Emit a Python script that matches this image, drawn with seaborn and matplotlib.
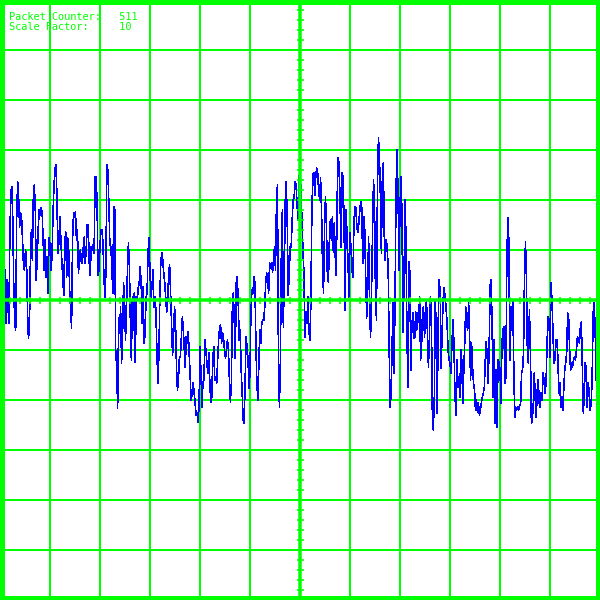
import numpy as np
import pandas as pd
import matplotlib.pyplot as plt
import seaborn as sns

# scope trace, amplitude in screen units (50 per grid division)
trace_a = [300, -48, -100, -100, -8,
           30, -23, 20, -3, -23, 60, 107, 113, 82, 15, -23, -30, 82, 118, 103,
           73, 87, 83, 60, 33, 30, 50, 43, -10, -38, -30, 40, 70, 40, 103,
           115, 90, 20, 43, 72, 90, 85, 92, 88, 60, 30, 60, 23, 43, 7,
           62, 55, 30, 43, 83, 113, 130, 135, 107, 47, 57, 83, 63, 40, 23,
           5, 57, 68, 23, 62, 53, 10, -10, -28, 60, 87, 83, 88, 60, 70,
           27, 40, 50, 38, 37, 53, 63, 37, 53, 75, 75, 38, 25, 53, 50,
           55, 47, 123, 123, 98, 25, 30, 55, 70, 70, 58, 23, 3, 27, 135,
           130, 98, 57, 53, 37, 7, 93, 90, -50, -67, -108, -18, -33, -7, -63,
           -37, 17, 3, -40, -10, 30, 57, 33, -23, -60, 3, -30, 7, -62, 3,
           0, 12, 17, 33, 17, -23, 13, -43, -33, 3, 7, 47, 62, 27, 3,
           13, 30, -7, 3]

trace_b = [-10, -50, -83, -57, 0, 38, 47, 40, 27, 17, 3, -12, -3, 27, 35,
           7, -25, -55, -37, -7, -20, -67, -90, -80, -57, -57, -37, -17, -30, -50,
           -67, -37, -43, -32, -55, -80, -100, -93, -83, -93, -103, -115, -113, -122, -107,
           -47, -73, -107, -83, -80, -40, -50, -63, -73, -53, -83, -102, -97, -60, -47,
           -80, -77, -83, -60, -40, -27, -25, -43, -33, -38, -50, -58, -50, -40, -50,
           -80, -102, -83, -7, 7, -23, -58, 17, 23, -3, -40, -30, -70, -93, -120,
           -123, -83, -37, -47, -60, -88, -73, -7, 10, 7, 23, 17, -43, -83, -100,
           -63, -30, -43, -23, -20, -20, -7, 17, 27, 20, 7, 37, 32, 37, 28,
           40, 53, 30, 97, 115, -58, -107, -60, 50, 90, -27, 27, 100, 118, 77,
           5, 27, 53, 53, 80, 100, 103, 118, 115, 95, 80, 122, 130, 110, 80,
           50]

trace_c = [27, -37, -12, -23, 3, -30, -40, -7, 80, 125, 127, 105, 122, 132, 127,
           110, 100, 122, 88, 32, 7, 73, 103, 72, 20, 18, 63, 80, 60, 83,
           48, 77, 43, 25, 107, 142, 135, 90, 53, 127, 123, 73, -10, 90, 63,
           37, 3, 67, 53, 30, 23, 77, 93, 92, 73, 68, 77, 90, 98, 92,
           37, 83, 70, 23, -18, 17, 63, -13, -37, 10, 70, 120, 97, 3, -20,
           113, 162, 145, 103, 47, 123, 137, 62, 40, 60, 53, 27, -53, -107, -93,
           -42, -3, -73, 7, 113, 150, 107, 30, 93, 123, 87, -32, 8, 100, 67,
           -27, -87, 38, 28, -70, -30, -13, -38, -37, -12, -30, -13, -22, 3, -60,
           -47, -10, -7, -37, -17, 0, -33, -67, -37, 3, -13, -115, -130, -97, 0,
           -30, -113, -20, 20, 7, -68, -30, 0, 12, 3, -8, -23, -50, -60, -63,
           -73, -43]

trace_d = [-20, -43, -93, -115, -60, -87, -77, -97, -50, -60, -103, -73, -43, -7, -22,
           -30, -3, -37, -80, -43, -67, -83, -90, -110, -100, -112, -103, -115, -110, -103,
           -97, -93, -87, -60, -42, -57, -83, -43, 15, 20, -30, -97, -40, -123, -70,
           -127, -60, -63, -70, -103, -43, -30, -27, -83, -77, 43, 82, 60, -60, -7,
           -30, 0, -63, -117, -107, -110, -107, -110, -105, -105, -73, -70, -53, 27, 58,
           20, -57, -63, -10, -47, -123, -120, -103, -73, -100, -117, -90, -80, -103, -107,
           -93, -100, -73, -80, -93, -83, -43, -17, -20, -57, 17, 0, -30, -63, -60,
           -40, -40, -57, -93, -83, -107, -97, -110, -90, -70, -63, -53, -13, -17, -50,
           -70, -63, -67, -60, -57, -60, -50, -37, -40, -43, -27, -22, -70, -113, -93,
           -63, -70, -107, -83, -93, -110, -103, -77, -13, -3, -27, -80, -50, -63, -60,
           -47]

GREEN = '#00ff00'
BLUE = '#0000ff'
PX = 72 / 100  # points per pixel at dpi 100

signal = np.concatenate([trace_a, trace_b, trace_c, trace_d])
df = pd.DataFrame({'x': np.linspace(0, 600, len(signal)), 'amp': signal})

sns.set_style('white')
plt.rcParams['font.family'] = ['DejaVu Sans Mono', 'DejaVu Sans']

fig = plt.figure(figsize=(6, 6), dpi=100, facecolor='white')

# screen: grid + border + trace
ax = fig.add_axes([0, 0, 1, 1])
sns.lineplot(data=df, x='x', y='amp', ax=ax, color=BLUE, linewidth=0.6 * PX,
             estimator=None, sort=False, antialiased=False)
ax.set_xlim(0, 600)
ax.set_ylim(-300, 300)
ax.set_xticks(np.arange(0, 601, 50))
ax.set_yticks(np.arange(-300, 301, 50))
ax.grid(True, color=GREEN, linewidth=1.5 * PX, antialiased=False)
ax.set_axisbelow(True)
ax.tick_params(length=0, labelbottom=False, labelleft=False)
ax.set_xlabel('')
ax.set_ylabel('')
for s in ax.spines.values():
    s.set_visible(True)
    s.set_color(GREEN)
    s.set_linewidth(9 * PX)

# centre cross-hair with the small division ticks
ax2 = fig.add_axes([0, 0, 1, 1])
ax2.patch.set_alpha(0)
ax2.set_xlim(0, 600)
ax2.set_ylim(-300, 300)
ax2.spines['top'].set_visible(False)
ax2.spines['right'].set_visible(False)
ax2.spines['left'].set_position(('data', 300))
ax2.spines['bottom'].set_position(('data', 0))
for k in ['left', 'bottom']:
    ax2.spines[k].set_color(GREEN)
    ax2.spines[k].set_linewidth(3.5 * PX)
ax2.set_xticks(np.arange(10, 600, 10))
ax2.set_yticks(np.arange(-290, 300, 10))
ax2.tick_params(bottom=True, left=True, direction='inout', length=7 * PX,
                width=1.6 * PX, color=GREEN, labelbottom=False, labelleft=False)

fig.text(9 / 600, 1 - 20.5 / 600, 'Packet Counter:   511', color=GREEN,
         fontsize=7.4, va='baseline', ha='left')
fig.text(9 / 600, 1 - 30.5 / 600, 'Scale Factor:     10', color=GREEN,
         fontsize=7.4, va='baseline', ha='left')

fig.savefig('out.png', dpi=100, facecolor='white')
